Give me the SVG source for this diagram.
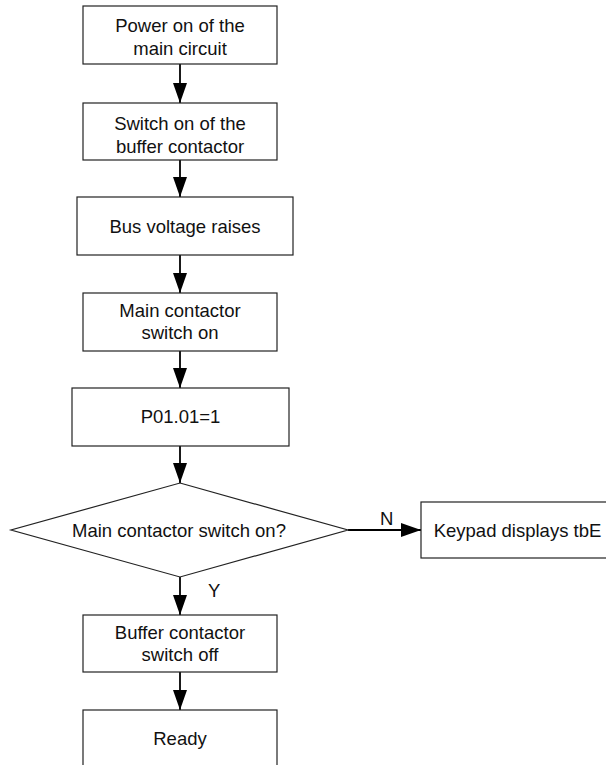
<svg xmlns="http://www.w3.org/2000/svg" width="606" height="765" viewBox="0 0 606 765">
  <style>
    .box { fill: #ffffff; stroke: #222222; stroke-width: 1.2; }
    .lbl { font-family: "Liberation Sans", Arial, sans-serif; font-size: 18.5px; fill: #111111; text-anchor: middle; }
    .tag { font-family: "Liberation Sans", Arial, sans-serif; font-size: 18.5px; fill: #111111; }
    .flow { stroke: #000000; stroke-width: 1.8; fill: none; marker-end: url(#head); }
  </style>
  <defs>
    <marker id="head" markerUnits="userSpaceOnUse" markerWidth="22" markerHeight="16" refX="20" refY="7" orient="auto">
      <path d="M0,0 L20,7 L0,14 Z" fill="#000000"/>
    </marker>
  </defs>
  <rect width="606" height="765" fill="#ffffff"/>

  <g id="connectors">
    <line class="flow" x1="180" y1="64" x2="180" y2="103"/>
    <line class="flow" x1="180" y1="160" x2="180" y2="197"/>
    <line class="flow" x1="180" y1="255" x2="180" y2="293"/>
    <line class="flow" x1="180" y1="351" x2="180" y2="388"/>
    <line class="flow" x1="180" y1="446" x2="180" y2="483"/>
    <line class="flow" x1="348" y1="530" x2="421" y2="530"/>
    <line class="flow" x1="180" y1="577" x2="180" y2="615"/>
    <line class="flow" x1="180" y1="672" x2="180" y2="710"/>
    <text class="tag" x="380" y="525">N</text>
    <text class="tag" x="208" y="597">Y</text>
  </g>

  <g id="power-on">
    <rect class="box" x="83" y="6" width="194" height="58"/>
    <text class="lbl" x="180" y="31.5">Power on of the</text>
    <text class="lbl" x="180" y="54.5">main circuit</text>
  </g>

  <g id="buffer-on">
    <rect class="box" x="83" y="103" width="194" height="57"/>
    <text class="lbl" x="180" y="130">Switch on of the</text>
    <text class="lbl" x="180" y="153">buffer contactor</text>
  </g>

  <g id="bus-voltage">
    <rect class="box" x="77" y="197" width="216" height="58"/>
    <text class="lbl" x="185" y="233">Bus voltage raises</text>
  </g>

  <g id="main-on">
    <rect class="box" x="83" y="293" width="194" height="58"/>
    <text class="lbl" x="180" y="316.5">Main contactor</text>
    <text class="lbl" x="180" y="339">switch on</text>
  </g>

  <g id="param">
    <rect class="box" x="72" y="388" width="217" height="58"/>
    <text class="lbl" x="180.5" y="423">P01.01=1</text>
  </g>

  <g id="check">
    <polygon class="box" points="180,483 348,530 180,577 11,530"/>
    <text class="lbl" x="179" y="537">Main contactor switch on?</text>
  </g>

  <g id="fault">
    <rect class="box" x="421" y="502" width="200" height="56"/>
    <text class="lbl" x="517.5" y="537">Keypad displays tbE</text>
  </g>

  <g id="buffer-off">
    <rect class="box" x="83" y="615" width="194" height="57"/>
    <text class="lbl" x="180" y="638.5">Buffer contactor</text>
    <text class="lbl" x="180" y="660.5">switch off</text>
  </g>

  <g id="ready">
    <rect class="box" x="83" y="710" width="194" height="70"/>
    <text class="lbl" x="180" y="745">Ready</text>
  </g>
</svg>
